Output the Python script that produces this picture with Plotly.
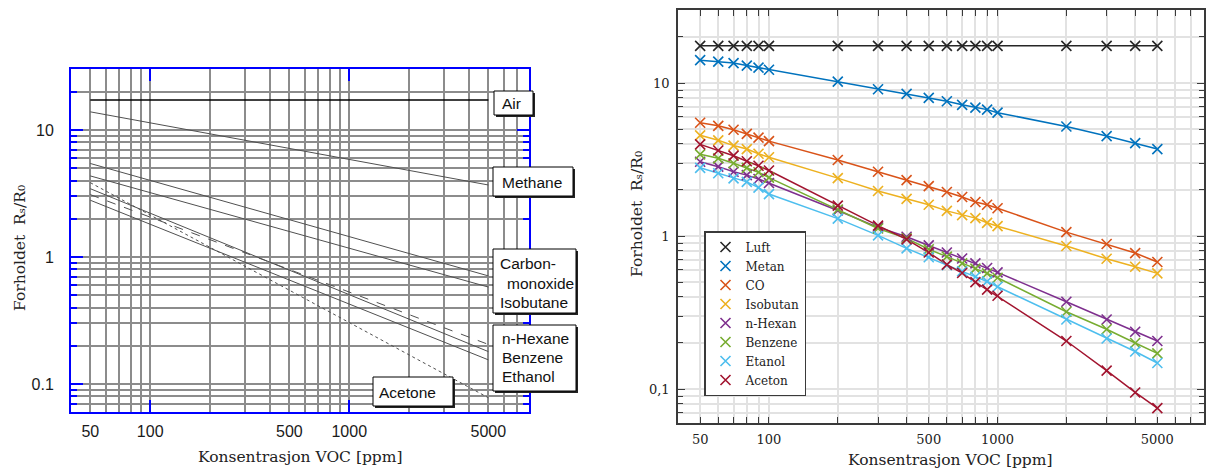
import math
import plotly.graph_objects as go

# ---------------- data ----------------
conc = [50, 60, 70, 80, 90, 100, 200, 300, 400, 500, 600, 700, 800, 900, 1000, 2000, 3000, 4000, 5000]
luft = [17.5, 17.5, 17.5, 17.5, 17.5, 17.5, 17.5, 17.5, 17.5, 17.5, 17.5, 17.5, 17.5, 17.5, 17.5, 17.5, 17.5, 17.5, 17.5]
metan = [14.1, 13.8, 13.5, 13.0, 12.6, 12.2, 10.2, 9.1, 8.5, 8.0, 7.6, 7.2, 6.9, 6.7, 6.4, 5.2, 4.5, 4.05, 3.7]
co = [5.5, 5.25, 4.95, 4.65, 4.4, 4.17, 3.14, 2.63, 2.32, 2.12, 1.94, 1.80, 1.67, 1.60, 1.52, 1.06, 0.887, 0.774, 0.676]
isobutan = [4.55, 4.22, 3.9, 3.7, 3.45, 3.27, 2.39, 1.97, 1.75, 1.60, 1.46, 1.37, 1.31, 1.22, 1.16, 0.86, 0.71, 0.63, 0.57]
nhexan = [3.06, 2.84, 2.63, 2.5, 2.36, 2.22, 1.47, 1.14, 0.99, 0.868, 0.78, 0.713, 0.663, 0.618, 0.579, 0.372, 0.285, 0.237, 0.206]
benzene = [3.42, 3.22, 2.99, 2.79, 2.61, 2.41, 1.49, 1.12, 0.966, 0.82, 0.733, 0.663, 0.612, 0.57, 0.534, 0.32, 0.246, 0.2, 0.171]
etanol = [2.79, 2.57, 2.38, 2.26, 2.07, 1.88, 1.30, 1.01, 0.83, 0.727, 0.646, 0.588, 0.542, 0.505, 0.466, 0.285, 0.214, 0.176, 0.148]
aceton = [3.97, 3.62, 3.35, 3.08, 2.88, 2.68, 1.58, 1.17, 0.95, 0.78, 0.65, 0.573, 0.50, 0.446, 0.407, 0.206, 0.132, 0.095, 0.075]

right_names = ["Luft", "Metan", "CO", "Isobutan", "n-Hexan", "Benzene", "Etanol", "Aceton"]
right_series = [luft, metan, co, isobutan, nhexan, benzene, etanol, aceton]
right_colors = ["#262626", "#0072BD", "#D95319", "#EDB120", "#7E2F8E", "#77AC30", "#4DBEEE", "#A2142F"]

# left (datasheet) chart: straight lines read at 50 and 5000 ppm
left_x = [50, 5000]
left_air = [17.2, 17.2]
left_methane = [13.9, 3.69]
left_co = [5.45, 0.71]
left_isobutane = [4.35, 0.58]
left_acetone = [3.85, 0.078]
left_benzene = [3.45, 0.18]
left_nhexane = [3.1, 0.205]
left_ethanol = [2.8, 0.155]

grid_x = [50, 60, 70, 80, 90, 100, 200, 300, 400, 500, 600, 700, 800, 900,
          1000, 2000, 3000, 4000, 5000, 6000, 7000]
x_label_vals = [50, 100, 500, 1000, 5000]
x_label_text = ["50", "100", "500", "1000", "5000"]
y_major = [0.1, 1, 10]
y_major_left = ["0.1", "1", "10"]
y_major_right = ["0,1", "1", "10"]
y_minor = [0.07, 0.08, 0.09, 0.2, 0.3, 0.4, 0.5, 0.6, 0.7, 0.8, 0.9,
           2, 3, 4, 5, 6, 7, 8, 9, 20]
x_range = [40, 8000]
y_range = [0.06, 30]

# ---------------- layout helpers ----------------
W, H = 1208, 473
def fx(p):
    return p / W
def fy(p):
    return 1 - p / H

fig = go.Figure()

# ---- left chart traces ----
GRAY = "#505050"
fig.add_trace(go.Scatter(x=left_x, y=left_air, mode="lines", line=dict(color="#000000", width=1.5),
                         xaxis="x", yaxis="y", showlegend=False, hoverinfo="skip"))
for ys, dash in [(left_methane, "solid"), (left_co, "solid"), (left_isobutane, "solid"),
                 (left_acetone, "dot"), (left_benzene, "solid"), (left_nhexane, "dash"),
                 (left_ethanol, "solid")]:
    fig.add_trace(go.Scatter(x=left_x, y=ys, mode="lines", line=dict(color=GRAY, width=1, dash=dash),
                             xaxis="x", yaxis="y", showlegend=False, hoverinfo="skip"))
# empty trace carrying the overlay tick axis
fig.add_trace(go.Scatter(x=[], y=[], xaxis="x3", yaxis="y", showlegend=False, hoverinfo="skip"))

# ---- right chart traces ----
for name, ys, col in zip(right_names, right_series, right_colors):
    fig.add_trace(go.Scatter(x=conc, y=ys, mode="lines", line=dict(color=col, width=1.5),
                             xaxis="x2", yaxis="y2", showlegend=False, hoverinfo="skip"))
for name, ys, col in zip(right_names, right_series, right_colors):
    fig.add_trace(go.Scatter(x=conc, y=ys, mode="markers", name=name,
                             marker=dict(symbol="x-thin", size=10, color=col,
                                         line=dict(color=col, width=1.6)),
                             xaxis="x2", yaxis="y2"))

LG = "#8c8c8c"
BLUE = "#0000ff"
RG = "#e2e2e2"
FRAME = "#3a3a3a"
sans = "Liberation Sans, Arial, sans-serif"
serif = "DejaVu Serif, serif"
minor_x = [v for v in grid_x if v not in x_label_vals]

fig.update_layout(
    width=W, height=H, margin=dict(l=0, r=0, t=0, b=0),
    paper_bgcolor="white", plot_bgcolor="white",
    xaxis=dict(type="log", domain=[fx(71), fx(529)], anchor="y",
               range=[math.log10(x_range[0]), math.log10(x_range[1])],
               tickmode="array", tickvals=x_label_vals, ticktext=x_label_text,
               ticks="", showgrid=True, gridcolor=LG, gridwidth=1.5,
               minor=dict(tickmode="array", tickvals=minor_x, ticks="",
                          showgrid=True, gridcolor=LG, gridwidth=1.5),
               showline=True, linecolor=BLUE, linewidth=2, mirror=True, zeroline=False,
               tickfont=dict(family=sans, size=16, color="#1a1a1a"), ticklabelstandoff=4),
    xaxis3=dict(type="log", overlaying="x", anchor="y",
                range=[math.log10(x_range[0]), math.log10(x_range[1])],
                tickmode="array", tickvals=[100, 1000], ticks="inside", ticklen=12, tickwidth=2,
                tickcolor=BLUE, showticklabels=False, showgrid=False, showline=True,
                linecolor=BLUE, linewidth=2, mirror="ticks", zeroline=False),
    yaxis=dict(type="log", domain=[fy(412.2), fy(69.4)], anchor="x",
               range=[math.log10(y_range[0]), math.log10(y_range[1])],
               tickmode="array", tickvals=y_major, ticktext=y_major_left,
               ticks="inside", ticklen=12, tickwidth=2, tickcolor=BLUE,
               minor=dict(tickmode="array", tickvals=y_minor, ticks="inside", ticklen=6,
                          tickwidth=2, tickcolor=BLUE, showgrid=True, gridcolor=LG, gridwidth=1.5),
               showgrid=True, gridcolor=LG, gridwidth=1.5,
               showline=True, linecolor=BLUE, linewidth=2, mirror="ticks", zeroline=False,
               tickfont=dict(family=sans, size=16, color="#1a1a1a"), ticklabelstandoff=12),
    xaxis2=dict(type="log", domain=[fx(678), fx(1204)], anchor="y2",
                range=[math.log10(x_range[0]), math.log10(x_range[1])],
                tickmode="array", tickvals=x_label_vals, ticktext=x_label_text,
                ticks="inside", ticklen=6, tickwidth=1, tickcolor=FRAME,
                minor=dict(tickmode="array", tickvals=minor_x,
                           ticks="inside", ticklen=6, tickwidth=1, tickcolor=FRAME,
                           showgrid=True, gridcolor=RG, gridwidth=1.5),
                showgrid=True, gridcolor=RG, gridwidth=1.5,
                showline=True, linecolor=FRAME, linewidth=1.5, mirror="ticks", zeroline=False,
                tickfont=dict(family=serif, size=13, color="#222222"), ticklabelstandoff=4),
    yaxis2=dict(type="log", domain=[fy(423), fy(10)], anchor="x2",
                range=[math.log10(y_range[0]), math.log10(y_range[1])],
                tickmode="array", tickvals=y_major, ticktext=y_major_right,
                ticks="inside", ticklen=7, tickwidth=1, tickcolor=FRAME,
                minor=dict(tickmode="array", tickvals=y_minor, ticks="inside", ticklen=5,
                           tickwidth=1, tickcolor=FRAME, showgrid=True, gridcolor=RG, gridwidth=1.5),
                showgrid=True, gridcolor=RG, gridwidth=1.5,
                showline=True, linecolor=FRAME, linewidth=1.5, mirror="ticks", zeroline=False,
                tickfont=dict(family=serif, size=13, color="#222222"), ticklabelstandoff=4),
    legend=dict(x=fx(704), y=fy(231), xanchor="left", yanchor="top",
                bgcolor="white", bordercolor=FRAME, borderwidth=1.5,
                font=dict(family=serif, size=12, color="#222222"), tracegroupgap=0),
    showlegend=True,
)

# ---- label boxes on left chart ----
shapes = []
annotations = []
def add_box(x0, y0, x1, y1):
    shapes.append(dict(type="rect", xref="paper", yref="paper", x0=fx(x0 + 2), x1=fx(x1 + 2),
                       y0=fy(y1 + 2), y1=fy(y0 + 2), fillcolor="#222222", line=dict(width=0),
                       layer="above"))
    shapes.append(dict(type="rect", xref="paper", yref="paper", x0=fx(x0), x1=fx(x1),
                       y0=fy(y1), y1=fy(y0), fillcolor="white", line=dict(color="#000000", width=1),
                       layer="above"))
def add_text(x, y, t):
    annotations.append(dict(x=fx(x), y=fy(y), xref="paper", yref="paper", text=t, showarrow=False,
                            xanchor="left", yanchor="middle",
                            font=dict(family=sans, size=15.5, color="#111111")))

add_box(494, 91, 533, 115); add_text(500, 103, "Air")
add_box(493, 167, 573, 196); add_text(500, 182, "Methane")
add_box(493, 249, 576, 313)
add_text(498, 263, "Carbon-"); add_text(505, 283, "monoxide"); add_text(498, 302, "Isobutane")
add_box(493, 325, 576, 391)
add_text(500, 338, "n-Hexane"); add_text(500, 357, "Benzene"); add_text(500, 376, "Ethanol")
add_box(373, 377, 453, 406); add_text(377, 392, "Acetone")

# axis titles
ytitle = "Forholdet  R\u209b/R\u2080"
for (x, y, t, ang) in [(300, 457, "Konsentrasjon VOC [ppm]", 0),
                       (950, 460, "Konsentrasjon VOC [ppm]", 0),
                       (20, 248, ytitle, -90),
                       (637, 214, ytitle, -90)]:
    annotations.append(dict(x=fx(x), y=fy(y), xref="paper", yref="paper", text=t, showarrow=False,
                            xanchor="center", yanchor="middle", textangle=ang,
                            font=dict(family=serif, size=15.5, color="#222222")))

fig.update_layout(shapes=shapes, annotations=annotations)
fig.write_html("out.html")
